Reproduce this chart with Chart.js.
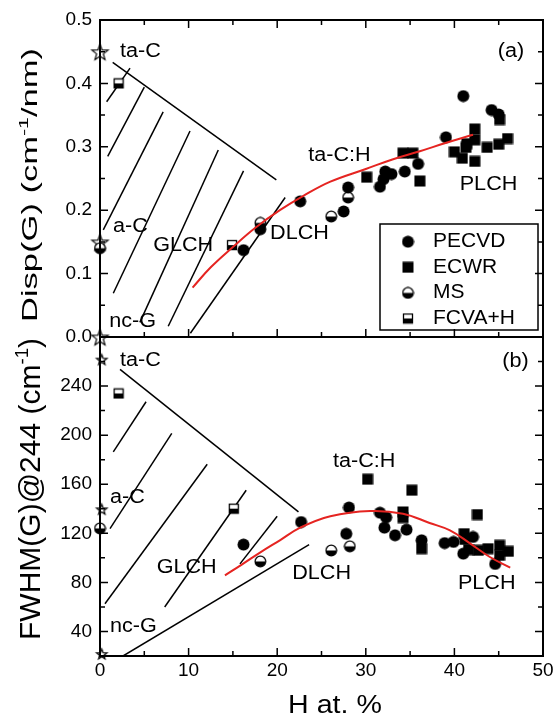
<!DOCTYPE html>
<html>
<head>
<meta charset="utf-8">
<script src="https://cdn.jsdelivr.net/npm/chart.js@4.4.1/dist/chart.umd.min.js"></script>
<style>
  html, body { margin: 0; padding: 0; background: #fff; }
  #wrap { position: relative; width: 557px; height: 724px; }
  #wrap canvas { position: absolute; left: 0; top: 0; }
</style>
</head>
<body>
<div id="wrap">
  <canvas id="dispChart" width="557" height="724"></canvas>
  <canvas id="fwhmChart" width="557" height="724"></canvas>
</div>
<script>
const FONT = '"Liberation Sans", Arial, sans-serif';

// axis ticks
const xTicks = [0, 10, 20, 30, 40, 50];
const dispTicks = [0, 0.1, 0.2, 0.3, 0.4, 0.5];
const fwhmTicks = [40, 80, 120, 160, 200, 240];

// (a) G peak dispersion vs H content
const dispPECVD = [[16.2, 0.137], [18.1, 0.170], [22.6, 0.214], [27.5, 0.198], [28.0, 0.236],
  [31.6, 0.237], [32.0, 0.249], [32.2, 0.261], [32.9, 0.257], [34.4, 0.261], [35.9, 0.273],
  [39.05, 0.315], [41.0, 0.380], [44.2, 0.358], [45.0, 0.351]];
const dispECWR = [[30.1, 0.252], [34.2, 0.290], [35.3, 0.290], [36.1, 0.246], [40.0, 0.292],
  [40.9, 0.282], [41.3, 0.299], [41.4, 0.305], [42.3, 0.328], [42.3, 0.311], [42.3, 0.277],
  [43.7, 0.299], [45.0, 0.304], [46.0, 0.313], [45.1, 0.343]];
const dispMS = [[0, 0.14], [18.1, 0.180], [26.1, 0.190], [28.0, 0.220]];
const dispFCVA = [[2.1, 0.400], [14.9, 0.145]];
const dispRef = [[0, 0.45], [0, 0.15], [0, 0.0]];
const dispFit = [[10.45, 0.078], [12.5, 0.110], [15, 0.142], [17.5, 0.172], [20.3, 0.200],
  [23, 0.223], [26, 0.245], [30, 0.265], [33, 0.280], [36.1, 0.293], [39, 0.306], [42.1, 0.319]];
const dispBounds = [
  [[1.43, 0.433], [19.9, 0.248]],
  [[0.75, 0.371], [3.39, 0.424]],
  [[0.87, 0.285], [5.0, 0.394]],
  [[0.37, 0.169], [7.13, 0.355]],
  [[1.5, 0.069], [10.16, 0.325]],
  [[4.5, 0.023], [13.35, 0.295]],
  [[7.7, 0.017], [16.2, 0.262]],
  [[10.2, 0.006], [20.9, 0.220]]
];

// (b) G peak width vs H content
const fwhmPECVD = [[16.2, 110.8], [22.7, 129.2], [27.8, 119.6], [28.1, 141], [31.6, 136.8],
  [32.3, 133], [32.1, 124.6], [33.3, 118.4], [34.6, 123], [36.3, 114.3], [38.9, 112],
  [39.9, 113], [41.0, 103.4], [42.1, 117], [44.6, 95]];
const fwhmECWR = [[30.2, 164.1], [34.2, 137.4], [34.2, 132.8], [35.2, 155.1], [36.3, 107.5],
  [41.1, 119.7], [41.2, 115], [41.6, 106.7], [42.6, 135.3], [42.7, 106.1], [43.8, 107.5],
  [45.1, 110.2], [45.1, 102], [46.1, 105.3]];
const fwhmMS = [[0, 124], [18.1, 97.1], [26.1, 106], [28.2, 109.4]];
const fwhmFCVA = [[2.1, 234], [15.1, 140.1]];
const fwhmRef = [[0.2, 262], [0.2, 140], [0.2, 22]];
const fwhmFit = [[14.1, 85.7], [16, 94.5], [18.1, 104.5], [20.3, 114.3], [22.6, 124.6],
  [26, 133.9], [30.5, 138.2], [34.2, 136], [37.2, 128.4], [39.5, 122.4], [41.8, 111.6],
  [44, 100.7], [46.3, 92]];
const fwhmBounds = [
  [[2.26, 253.6], [22.4, 137.4]],
  [[2.6, 20], [23.6, 110.8]],
  [[1.5, 186.4], [5.2, 227.2]],
  [[1.13, 123.8], [8.1, 201.4]],
  [[0.56, 62.6], [12.1, 176.3]],
  [[7.3, 59.9], [16.5, 155.1]],
  [[15.8, 95.1], [20.0, 133.9]]
];

// marker bitmaps
function marker(size, draw) {
  const c = document.createElement('canvas');
  c.width = c.height = size;
  const g = c.getContext('2d');
  g.fillStyle = '#000';
  g.strokeStyle = '#000';
  draw(g, size / 2);
  return c;
}
const dot = marker(13, (g, m) => { g.beginPath(); g.arc(m, m, 6, 0, Math.PI * 2); g.fill(); });
const square = marker(12, (g, m) => { g.fillRect(m - 5.5, m - 5.5, 11, 11); });
const halfDot = marker(13, (g, m) => {
  g.beginPath(); g.arc(m, m, 5.3, 0, Math.PI * 2); g.fillStyle = '#fff'; g.fill();
  g.beginPath(); g.arc(m, m, 5.3, 0, Math.PI); g.closePath(); g.fillStyle = '#000'; g.fill();
  g.beginPath(); g.arc(m, m, 5.3, 0, Math.PI * 2); g.lineWidth = 1.3; g.stroke();
});
const halfSquare = marker(12, (g, m) => {
  g.fillStyle = '#fff'; g.fillRect(m - 4.5, m - 4.5, 9, 9);
  g.fillStyle = '#000'; g.fillRect(m - 4.5, m, 9, 4.5);
  g.lineWidth = 1.3; g.strokeRect(m - 4.5, m - 4.5, 9, 9);
});
function star(r) {
  return marker(Math.ceil(r * 2 + 4), (g, m) => {
    g.beginPath();
    for (let i = 0; i < 10; i++) {
      const rr = i % 2 ? r * 0.42 : r;
      const ang = -Math.PI / 2 + i * Math.PI / 5;
      g.lineTo(m + rr * Math.cos(ang), m + 1 + rr * Math.sin(ang));
    }
    g.closePath();
    g.fillStyle = '#fff';
    g.fill();
    g.lineWidth = 1.2;
    g.stroke();
  });
}
const bigStar = star(8.5);
const smallStar = star(5.5);

function points(data, style) {
  return { data, pointStyle: style, pointRadius: 5, showLine: false, clip: false };
}
function curve(data) {
  return { data, showLine: true, borderColor: '#e52421', borderWidth: 2, pointRadius: 0, tension: 0.4 };
}
function segment(data) {
  return { data, showLine: true, borderColor: '#000', borderWidth: 1.5, pointRadius: 0, tension: 0 };
}

function withMinor(major, min, max) {
  const out = [];
  const step = major[1] - major[0];
  if (major[0] - step / 2 > min + 1e-9) out.push([major[0] - step / 2, false]);
  major.forEach((v, i) => {
    out.push([v, true]);
    const mid = i < major.length - 1 ? (v + major[i + 1]) / 2 : v + step / 2;
    if (mid < max - 1e-9) out.push([mid, false]);
  });
  return out;
}

function stretchText(ctx, text, x, y, size, sx, align) {
  ctx.save();
  ctx.font = size + 'px ' + FONT;
  const w = ctx.measureText(text).width * sx;
  ctx.translate(align === 'center' ? x - w / 2 : x, y);
  ctx.scale(sx, 1);
  ctx.textAlign = 'left';
  ctx.textBaseline = 'middle';
  ctx.fillStyle = '#000';
  ctx.fillText(text, 0, 0);
  ctx.restore();
}

function verticalTitle(ctx, parts, size, baseX, centerY, length) {
  ctx.save();
  ctx.fillStyle = '#000';
  ctx.textBaseline = 'alphabetic';
  ctx.textAlign = 'left';
  let total = 0;
  const widths = parts.map(([t, k]) => {
    ctx.font = (size * k) + 'px ' + FONT;
    const w = ctx.measureText(t).width;
    total += w;
    return w;
  });
  ctx.translate(baseX, centerY);
  ctx.rotate(-Math.PI / 2);
  ctx.scale(length / total, 1);
  let pos = -total / 2;
  parts.forEach(([t, k, rise], i) => {
    ctx.font = (size * k) + 'px ' + FONT;
    ctx.fillText(t, pos, -rise * size);
    pos += widths[i];
  });
  ctx.restore();
}

const deco = {
  id: 'deco',
  afterDatasetsDraw(chart, args, o) {
    const { ctx, chartArea: a } = chart;
    const xs = chart.scales.x, ys = chart.scales.y;
    ctx.save();
    ctx.strokeStyle = '#000';
    ctx.lineWidth = 1.5;
    ctx.beginPath();
    const big = 8, small = 5;
    withMinor(o.xTicks, xs.min, xs.max).forEach(([v, major]) => {
      const px = xs.getPixelForValue(v), len = major ? big : small;
      if (o.sides.includes('bottom')) { ctx.moveTo(px, a.bottom); ctx.lineTo(px, a.bottom - len); }
      if (o.sides.includes('top')) { ctx.moveTo(px, a.top); ctx.lineTo(px, a.top + len); }
    });
    withMinor(o.yTicks, ys.min, ys.max).forEach(([v, major]) => {
      const py = ys.getPixelForValue(v), len = major ? big : small;
      if (o.sides.includes('left')) { ctx.moveTo(a.left, py); ctx.lineTo(a.left + len, py); }
      if (o.sides.includes('right')) { ctx.moveTo(a.right, py); ctx.lineTo(a.right - len, py); }
    });
    ctx.stroke();
    ctx.lineWidth = 2;
    ctx.strokeRect(a.left, a.top, a.right - a.left, a.bottom - a.top);

    o.notes.forEach(([t, xv, yv]) => {
      stretchText(ctx, t, xs.getPixelForValue(xv), ys.getPixelForValue(yv), 20, 1.08, 'left');
    });

    const tt = o.title;
    verticalTitle(ctx, tt.parts, tt.size, tt.x, tt.y, tt.length);

    if (o.xTitle) stretchText(ctx, o.xTitle, 335, 706, 26, 1.1, 'center');

    if (o.legend) {
      const L = o.legend;
      ctx.lineWidth = 1.5;
      ctx.strokeRect(380, 224, 158, 106);
      L.forEach(([img, label], i) => {
        const cy = 241.7 + i * 25.6;
        ctx.drawImage(img, 408 - img.width / 2, cy - img.height / 2);
        stretchText(ctx, label, 433, cy, 20, 1.05, 'left');
      });
    }
    ctx.restore();
  }
};

function axes(yMin, yMax, yTickList, yFmt, showX) {
  return {
    x: {
      type: 'linear', min: 0, max: 50,
      afterBuildTicks: s => { s.ticks = xTicks.map(v => ({ value: v })); },
      ticks: { display: showX, font: { family: FONT, size: 19 }, color: '#000', padding: 3, maxRotation: 0, autoSkip: false },
      grid: { display: false, drawTicks: false },
      border: { display: false },
      afterFit: s => { s.height = showX ? 68 : 0; }
    },
    y: {
      type: 'linear', min: yMin, max: yMax,
      afterBuildTicks: s => { s.ticks = yTickList.map(v => ({ value: v })); },
      ticks: { font: { family: FONT, size: 19 }, color: '#000', padding: 8, autoSkip: false, callback: yFmt },
      grid: { display: false, drawTicks: false },
      border: { display: false },
      afterFit: s => { s.width = 100; }
    }
  };
}

const common = {
  responsive: false,
  animation: false,
  events: [],
  plugins: { legend: { display: false }, tooltip: { enabled: false } }
};

new Chart(document.getElementById('dispChart'), {
  type: 'scatter',
  data: {
    datasets: [
      curve(dispFit),
      points(dispPECVD, dot),
      points(dispECWR, square),
      points(dispMS, halfDot),
      points(dispFCVA, halfSquare),
      points(dispRef, bigStar),
      ...dispBounds.map(segment)
    ]
  },
  options: {
    ...common,
    layout: { padding: { left: 0, top: 20, right: 14, bottom: 387 } },
    scales: axes(0, 0.5, dispTicks, v => v.toFixed(1), false),
    plugins: {
      ...common.plugins,
      deco: {
        xTicks, yTicks: dispTicks, sides: ['left', 'right', 'top', 'bottom'],
        notes: [['ta-C', 2.26, 0.450], ['a-C', 1.47, 0.174], ['GLCH', 6.0, 0.145], ['DLCH', 19.2, 0.164],
          ['nc-G', 1.04, 0.024], ['ta-C:H', 23.5, 0.287], ['PLCH', 40.6, 0.240], ['(a)', 44.9, 0.450]],
        title: { parts: [['Disp(G) (cm', 1, 0], ['-1', 0.62, 0.4], ['/nm)', 1, 0]], size: 22, x: 37, y: 185, length: 274 },
        legend: [[dot, 'PECVD'], [square, 'ECWR'], [halfDot, 'MS'], [halfSquare, 'FCVA+H']]
      }
    }
  },
  plugins: [deco]
});

new Chart(document.getElementById('fwhmChart'), {
  type: 'scatter',
  data: {
    datasets: [
      curve(fwhmFit),
      points(fwhmPECVD, dot),
      points(fwhmECWR, square),
      points(fwhmMS, halfDot),
      points(fwhmFCVA, halfSquare),
      points(fwhmRef, smallStar),
      ...fwhmBounds.map(segment)
    ]
  },
  options: {
    ...common,
    layout: { padding: { left: 0, top: 337, right: 14, bottom: 0 } },
    scales: axes(20, 280, fwhmTicks, v => String(v), true),
    plugins: {
      ...common.plugins,
      deco: {
        xTicks, yTicks: fwhmTicks, sides: ['left', 'right', 'bottom'],
        notes: [['ta-C', 2.26, 260.7], ['a-C', 1.13, 149.6], ['GLCH', 6.4, 92.5], ['DLCH', 21.7, 87],
          ['nc-G', 1.13, 44.1], ['ta-C:H', 26.3, 178.2], ['PLCH', 40.4, 79], ['(b)', 45.4, 259.8]],
        title: { parts: [['FWHM(G)@244 (cm', 1, 0], ['-1', 0.62, 0.4], [')', 1, 0]], size: 30, x: 40, y: 489, length: 302 },
        xTitle: 'H at. %'
      }
    }
  },
  plugins: [deco]
});
</script>
</body>
</html>
